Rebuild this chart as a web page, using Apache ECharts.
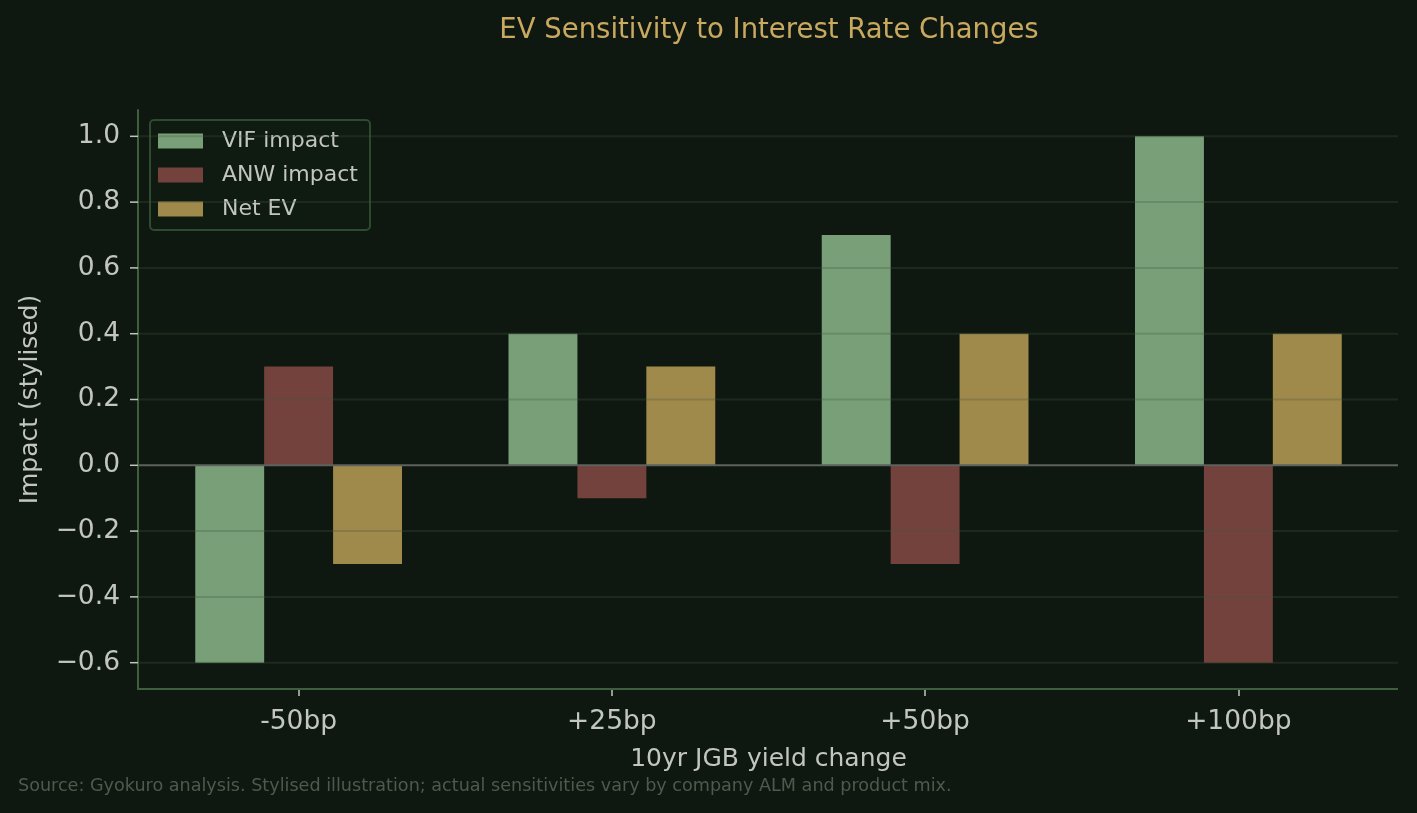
<!DOCTYPE html>
<html>
<head>
<meta charset="utf-8">
<script src="https://cdn.jsdelivr.net/npm/echarts@6/dist/echarts.min.js"></script>
<style>
html,body{margin:0;padding:0;background:#0e1810;}
#chart{width:1417px;height:813px;}
</style>
</head>
<body>
<div id="chart"></div>
<script>
const categories = ['-50bp', '+25bp', '+50bp', '+100bp'];
const vifImpact = [-0.6, 0.4, 0.7, 1.0];
const anwImpact = [0.3, -0.1, -0.3, -0.6];
const netEV = [-0.3, 0.3, 0.4, 0.4];
const yTicks = [-0.6, -0.4, -0.2, 0.0, 0.2, 0.4, 0.6, 0.8, 1.0];
const yMin = -0.68, yMax = 1.08;

const FONT = 'DejaVu Sans';
const labelColor = '#c2c6be';
const spineColor = '#3f5d3f';
const Y_OFFSET = 4;   // y spine sits a little left of the category band
const X_EXTRA = 3;    // x spine runs a little past the category band

const chart = echarts.init(document.getElementById('chart'), null, {renderer: 'canvas'});

chart.setOption({
  backgroundColor: '#0e1810',
  animation: false,
  textStyle: {fontFamily: FONT},
  grid: {left: 142, right: 22, top: 110, bottom: 124, containLabel: false},
  graphic: [
    {type: 'text', x: 769, y: 31,
     style: {text: 'EV Sensitivity to Interest Rate Changes', fill: '#c9a85f', font: '27.5px "DejaVu Sans"', textAlign: 'center', textVerticalAlign: 'middle'}},
    {type: 'text', x: 18, y: 786,
     style: {text: 'Source: Gyokuro analysis. Stylised illustration; actual sensitivities vary by company ALM and product mix.', fill: '#4d5a4d', font: '17.6px "DejaVu Sans"', textAlign: 'left', textVerticalAlign: 'middle'}}
  ],
  legend: {
    orient: 'vertical',
    left: 150, top: 120,
    data: ['VIF impact', 'ANW impact', 'Net EV'],
    itemWidth: 45, itemHeight: 15, itemGap: 12,
    padding: [10, 12, 10, 8],
    backgroundColor: '#0f1a10',
    borderColor: '#2e4a30', borderWidth: 2, borderRadius: 4,
    icon: 'rect',
    textStyle: {color: labelColor, fontSize: 22, fontFamily: FONT, padding: [0, 0, 0, 14]}
  },
  xAxis: {
    type: 'category',
    data: categories,
    name: '10yr JGB yield change',
    nameLocation: 'middle',
    nameGap: 58,
    nameTextStyle: {color: labelColor, fontSize: 25, fontFamily: FONT},
    axisLine: {show: false, onZero: false},
    axisTick: {show: true, alignWithLabel: true, length: 7, lineStyle: {color: labelColor, width: 1.5}},
    axisLabel: {color: labelColor, fontSize: 26.5, fontFamily: FONT, margin: 20},
    splitLine: {show: false}
  },
  yAxis: {
    type: 'value',
    min: yMin, max: yMax,
    offset: Y_OFFSET,
    name: 'Impact (stylised)',
    nameLocation: 'middle',
    nameRotate: 90,
    nameGap: 95,
    nameTextStyle: {color: labelColor, fontSize: 25, fontFamily: FONT},
    axisLine: {show: true, lineStyle: {color: spineColor, width: 2}},
    axisTick: {show: false},
    axisLabel: {color: labelColor, fontSize: 26.5, fontFamily: FONT, margin: 18, customValues: yTicks,
      formatter: v => { const s = (Math.round(v * 10) / 10).toFixed(1); return s.replace('-', '\u2212'); }},
    splitLine: {show: false}
  },
  series: [
    {name: 'VIF impact', type: 'bar', data: vifImpact, itemStyle: {color: '#789f78'}, barGap: '0%', barCategoryGap: '34%'},
    {name: 'ANW impact', type: 'bar', data: anwImpact, itemStyle: {color: '#74423c'}},
    {name: 'Net EV', type: 'bar', data: netEV, itemStyle: {color: '#a08a4b'}},
    {name: '_grid', type: 'custom', silent: true, clip: false, z: 10,
     data: yTicks.map(v => [0, v]),
     renderItem: (params, api) => {
       const v = api.value(1);
       const y = api.coord([0, v])[1];
       const cs = params.coordSys;
       const x0 = cs.x - Y_OFFSET;
       const x1 = cs.x + cs.width + X_EXTRA;
       const children = [
         {type: 'line', shape: {x1: x0 + 1, y1: y, x2: x1, y2: y},
          style: v === 0 ? {stroke: '#5e615d', lineWidth: 2} : {stroke: 'rgba(68,86,66,0.28)', lineWidth: 2}},
         {type: 'line', shape: {x1: x0 - 8, y1: y, x2: x0, y2: y},
          style: {stroke: labelColor, lineWidth: 1.5}}
       ];
       if (params.dataIndex === 0) {
         const yb = cs.y + cs.height;
         children.push({type: 'line', shape: {x1: x0 - 1, y1: yb, x2: x1, y2: yb},
                        style: {stroke: spineColor, lineWidth: 2}});
       }
       return {type: 'group', children: children};
     }}
  ]
});
</script>
</body>
</html>
